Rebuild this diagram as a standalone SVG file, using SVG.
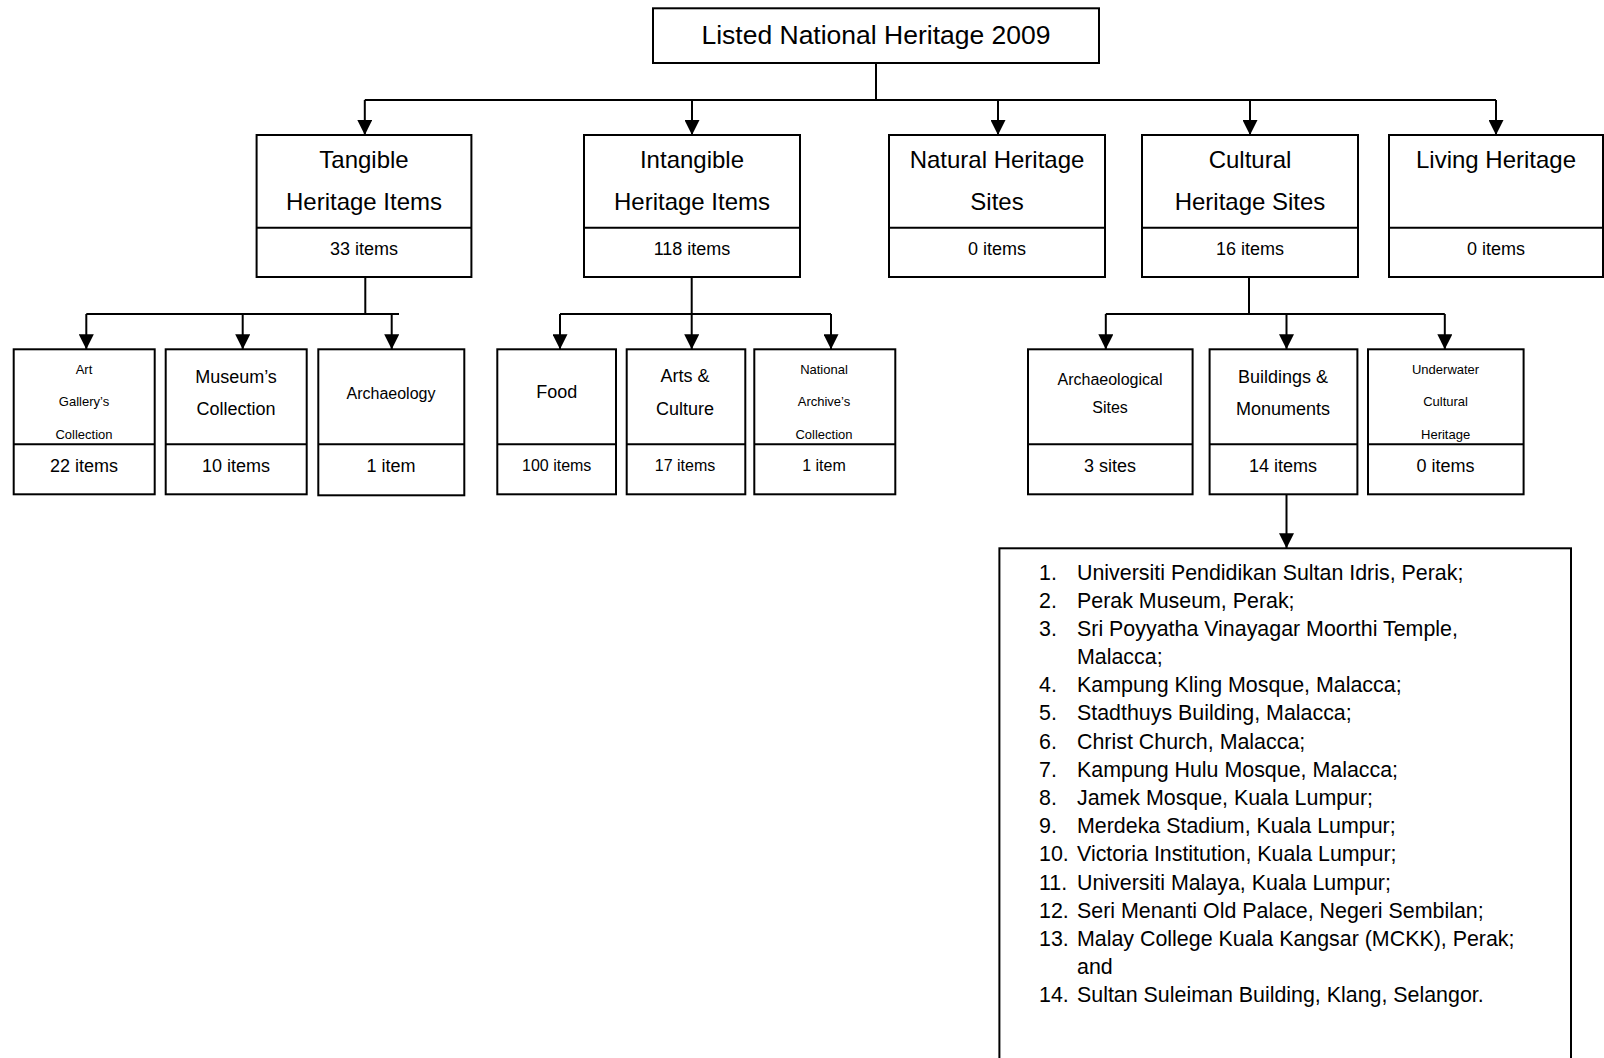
<svg xmlns="http://www.w3.org/2000/svg" width="1604" height="1058" viewBox="0 0 1604 1058">
  <style>
    .box { fill: #ffffff; stroke: #000000; stroke-width: 2; }
    .div { stroke: #000000; stroke-width: 2; }
    .wire { fill: none; stroke: #000000; stroke-width: 2; }
    text { font-family: "Liberation Sans", Arial, sans-serif; fill: #000000; text-anchor: middle; }
    .t26 { font-size: 26.5px; }
    .t24 { font-size: 24px; }
    .t18 { font-size: 18px; }
    .t16 { font-size: 16px; }
    .t13 { font-size: 13px; }
    .list { font-size: 21.4px; text-anchor: start; }
  </style>
  <defs>
    <marker id="arrow" markerWidth="15" markerHeight="15" refX="15" refY="7.5" orient="auto" markerUnits="userSpaceOnUse">
      <path d="M0,0 L15,7.5 L0,15 Z" fill="#000000"/>
    </marker>
  </defs>

  <rect width="1604" height="1058" fill="#ffffff"/>

  <!-- connectors -->
  <g id="connectors">
    <!-- root to the five categories -->
    <path class="wire" d="M876,63 V100 M364.8,100 H1496"/>
    <path class="wire" d="M364.8,100 V135" marker-end="url(#arrow)"/>
    <path class="wire" d="M692,100 V135" marker-end="url(#arrow)"/>
    <path class="wire" d="M998,100 V135" marker-end="url(#arrow)"/>
    <path class="wire" d="M1250,100 V135" marker-end="url(#arrow)"/>
    <path class="wire" d="M1496,100 V135" marker-end="url(#arrow)"/>

    <!-- tangible breakdown -->
    <path class="wire" d="M365.3,277 V314 M86.3,314 H399"/>
    <path class="wire" d="M86.3,314 V349.3" marker-end="url(#arrow)"/>
    <path class="wire" d="M242.7,314 V349.3" marker-end="url(#arrow)"/>
    <path class="wire" d="M391.7,314 V349.3" marker-end="url(#arrow)"/>

    <!-- intangible breakdown -->
    <path class="wire" d="M691.7,277 V314 M560,314 H831"/>
    <path class="wire" d="M560,314 V349.3" marker-end="url(#arrow)"/>
    <path class="wire" d="M691.7,314 V349.3" marker-end="url(#arrow)"/>
    <path class="wire" d="M831,314 V349.3" marker-end="url(#arrow)"/>

    <!-- cultural sites breakdown -->
    <path class="wire" d="M1249,277 V314 M1105.8,314 H1444.8"/>
    <path class="wire" d="M1105.8,314 V349.3" marker-end="url(#arrow)"/>
    <path class="wire" d="M1286.5,314 V349.3" marker-end="url(#arrow)"/>
    <path class="wire" d="M1444.8,314 V349.3" marker-end="url(#arrow)"/>

    <!-- buildings to list -->
    <path class="wire" d="M1286.5,494.3 V548.3" marker-end="url(#arrow)"/>
  </g>

  <!-- root -->
  <g id="root">
    <rect class="box" x="653" y="8.3" width="446" height="54.7"/>
    <text class="t26" x="876" y="43.5">Listed National Heritage 2009</text>
  </g>

  <!-- categories -->
  <g id="tangible">
    <rect class="box" x="256.6" y="135" width="214.8" height="142"/>
    <line class="div" x1="256.6" y1="227.7" x2="471.4" y2="227.7"/>
    <text class="t24" x="364" y="168">Tangible</text>
    <text class="t24" x="364" y="209.5">Heritage Items</text>
    <text class="t18" x="364" y="254.5">33 items</text>
  </g>
  <g id="intangible">
    <rect class="box" x="584" y="135" width="216" height="142"/>
    <line class="div" x1="584" y1="227.7" x2="800" y2="227.7"/>
    <text class="t24" x="692" y="168">Intangible</text>
    <text class="t24" x="692" y="209.5">Heritage Items</text>
    <text class="t18" x="692" y="254.5">118 items</text>
  </g>
  <g id="natural">
    <rect class="box" x="889" y="135" width="216" height="142"/>
    <line class="div" x1="889" y1="227.7" x2="1105" y2="227.7"/>
    <text class="t24" x="997" y="168">Natural Heritage</text>
    <text class="t24" x="997" y="209.5">Sites</text>
    <text class="t18" x="997" y="254.5">0 items</text>
  </g>
  <g id="cultural">
    <rect class="box" x="1142" y="135" width="216" height="142"/>
    <line class="div" x1="1142" y1="227.7" x2="1358" y2="227.7"/>
    <text class="t24" x="1250" y="168">Cultural</text>
    <text class="t24" x="1250" y="209.5">Heritage Sites</text>
    <text class="t18" x="1250" y="254.5">16 items</text>
  </g>
  <g id="living">
    <rect class="box" x="1389" y="135" width="214" height="142"/>
    <line class="div" x1="1389" y1="227.7" x2="1603" y2="227.7"/>
    <text class="t24" x="1496" y="168">Living Heritage</text>
    <text class="t18" x="1496" y="254.5">0 items</text>
  </g>

  <!-- tangible children -->
  <g id="art-gallery">
    <rect class="box" x="13.7" y="349.3" width="141" height="145"/>
    <line class="div" x1="13.7" y1="444.3" x2="154.7" y2="444.3"/>
    <text class="t13" x="84" y="373.5">Art</text>
    <text class="t13" x="84" y="405.5">Gallery’s</text>
    <text class="t13" x="84" y="438.5">Collection</text>
    <text class="t18" x="84" y="471.5">22 items</text>
  </g>
  <g id="museum">
    <rect class="box" x="165.7" y="349.3" width="141" height="145"/>
    <line class="div" x1="165.7" y1="444.3" x2="306.7" y2="444.3"/>
    <text class="t18" x="236" y="382.5">Museum’s</text>
    <text class="t18" x="236" y="415">Collection</text>
    <text class="t18" x="236" y="471.5">10 items</text>
  </g>
  <g id="archaeology">
    <rect class="box" x="318.3" y="349.3" width="146" height="146"/>
    <line class="div" x1="318.3" y1="444.3" x2="464.3" y2="444.3"/>
    <text class="t16" x="391" y="399.2">Archaeology</text>
    <text class="t18" x="391" y="471.5">1 item</text>
  </g>

  <!-- intangible children -->
  <g id="food">
    <rect class="box" x="497.3" y="349.3" width="118.7" height="145"/>
    <line class="div" x1="497.3" y1="444.3" x2="616" y2="444.3"/>
    <text class="t18" x="556.7" y="398.2">Food</text>
    <text class="t16" x="556.7" y="471">100 items</text>
  </g>
  <g id="arts-culture">
    <rect class="box" x="626.7" y="349.3" width="118.6" height="145"/>
    <line class="div" x1="626.7" y1="444.3" x2="745.3" y2="444.3"/>
    <text class="t18" x="685" y="382">Arts &amp;</text>
    <text class="t18" x="685" y="415">Culture</text>
    <text class="t16" x="685" y="471">17 items</text>
  </g>
  <g id="national-archive">
    <rect class="box" x="754.3" y="349.3" width="141" height="145"/>
    <line class="div" x1="754.3" y1="444.3" x2="895.3" y2="444.3"/>
    <text class="t13" x="824" y="373.5">National</text>
    <text class="t13" x="824" y="405.5">Archive’s</text>
    <text class="t13" x="824" y="438.5">Collection</text>
    <text class="t16" x="824" y="471">1 item</text>
  </g>

  <!-- cultural sites children -->
  <g id="archaeological-sites">
    <rect class="box" x="1028" y="349.3" width="164.6" height="145"/>
    <line class="div" x1="1028" y1="444.3" x2="1192.6" y2="444.3"/>
    <text class="t16" x="1110" y="384.5">Archaeological</text>
    <text class="t16" x="1110" y="412.5">Sites</text>
    <text class="t18" x="1110" y="471.5">3 sites</text>
  </g>
  <g id="buildings">
    <rect class="box" x="1209.6" y="349.3" width="147.8" height="145"/>
    <line class="div" x1="1209.6" y1="444.3" x2="1357.4" y2="444.3"/>
    <text class="t18" x="1283" y="382.5">Buildings &amp;</text>
    <text class="t18" x="1283" y="415">Monuments</text>
    <text class="t18" x="1283" y="471.5">14 items</text>
  </g>
  <g id="underwater">
    <rect class="box" x="1368" y="349.3" width="155.6" height="145"/>
    <line class="div" x1="1368" y1="444.3" x2="1523.6" y2="444.3"/>
    <text class="t13" x="1445.6" y="373.5">Underwater</text>
    <text class="t13" x="1445.6" y="405.5">Cultural</text>
    <text class="t13" x="1445.6" y="438.5">Heritage</text>
    <text class="t18" x="1445.6" y="471.5">0 items</text>
  </g>

  <!-- list of buildings and monuments -->
  <g id="building-list">
    <rect class="box" x="999.4" y="548.3" width="571.6" height="530"/>
    <g class="list">
      <text class="list" x="1039" y="579.5">1.</text>
      <text class="list" x="1077" y="579.5">Universiti Pendidikan Sultan Idris, Perak;</text>
      <text class="list" x="1039" y="607.7">2.</text>
      <text class="list" x="1077" y="607.7">Perak Museum, Perak;</text>
      <text class="list" x="1039" y="635.9">3.</text>
      <text class="list" x="1077" y="635.9">Sri Poyyatha Vinayagar Moorthi Temple,</text>
      <text class="list" x="1077" y="664">Malacca;</text>
      <text class="list" x="1039" y="692.2">4.</text>
      <text class="list" x="1077" y="692.2">Kampung Kling Mosque, Malacca;</text>
      <text class="list" x="1039" y="720.4">5.</text>
      <text class="list" x="1077" y="720.4">Stadthuys Building, Malacca;</text>
      <text class="list" x="1039" y="748.6">6.</text>
      <text class="list" x="1077" y="748.6">Christ Church, Malacca;</text>
      <text class="list" x="1039" y="776.8">7.</text>
      <text class="list" x="1077" y="776.8">Kampung Hulu Mosque, Malacca;</text>
      <text class="list" x="1039" y="804.9">8.</text>
      <text class="list" x="1077" y="804.9">Jamek Mosque, Kuala Lumpur;</text>
      <text class="list" x="1039" y="833.1">9.</text>
      <text class="list" x="1077" y="833.1">Merdeka Stadium, Kuala Lumpur;</text>
      <text class="list" x="1039" y="861.3">10.</text>
      <text class="list" x="1077" y="861.3">Victoria Institution, Kuala Lumpur;</text>
      <text class="list" x="1039" y="889.5">11.</text>
      <text class="list" x="1077" y="889.5">Universiti Malaya, Kuala Lumpur;</text>
      <text class="list" x="1039" y="917.7">12.</text>
      <text class="list" x="1077" y="917.7">Seri Menanti Old Palace, Negeri Sembilan;</text>
      <text class="list" x="1039" y="945.8">13.</text>
      <text class="list" x="1077" y="945.8">Malay College Kuala Kangsar (MCKK), Perak;</text>
      <text class="list" x="1077" y="974">and</text>
      <text class="list" x="1039" y="1002.2">14.</text>
      <text class="list" x="1077" y="1002.2">Sultan Suleiman Building, Klang, Selangor.</text>
    </g>
  </g>
</svg>
